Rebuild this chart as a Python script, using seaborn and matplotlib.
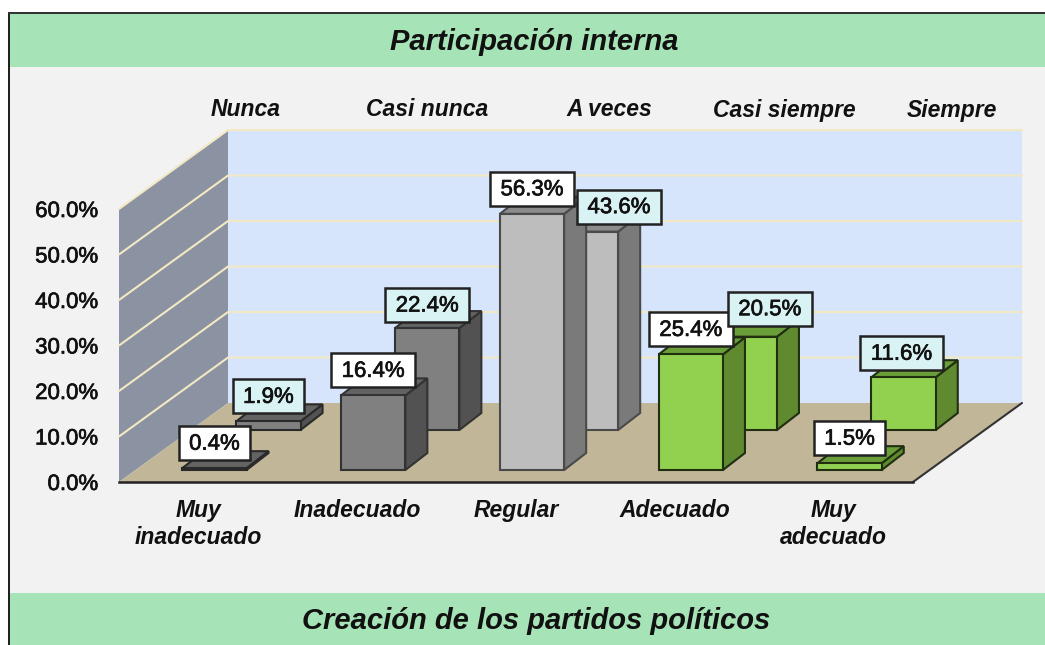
import matplotlib
matplotlib.use("Agg")
import matplotlib.pyplot as plt
import matplotlib.patheffects as pe
from matplotlib.patches import Polygon, Rectangle
from matplotlib.transforms import IdentityTransform
import seaborn as sns
import pandas as pd

# Data
categorias = ["Muy\ninadecuado", "Inadecuado", "Regular", "Adecuado", "Muy\nadecuado"]
frecuencias = ["Nunca", "Casi nunca", "A veces", "Casi siempre", "Siempre"]
serie_frente = [0.4, 16.4, 56.3, 25.4, 1.5]
serie_fondo = [1.9, 22.4, 43.6, 20.5, 11.6]
y_ticks = [0, 10, 20, 30, 40, 50, 60]

# Bar colours per category: face, side, top
caras = ["#808080", "#808080", "#bdbdbd", "#92d050", "#92d050"]
lados = ["#525252", "#525252", "#7a7a7a", "#5f8a30", "#5f8a30"]
techos = ["#636363", "#636363", "#8c8c8c", "#6a9e38", "#6a9e38"]
bordes = ["#2a2a2a", "#333333", "#4a4a4a", "#1f2f10", "#1f2f10"]

W, H = 1045, 645
FONT = "Liberation Sans"
sns.set_theme(style="white")
plt.rcParams["font.family"] = FONT

fig = plt.figure(figsize=(W / 100, H / 100), dpi=100, facecolor="white")
stroke = [pe.withStroke(linewidth=0.5, foreground="#111111")]


def px(x, y):
    # pixel position in the reference (y down) -> display coords
    return (x, H - y)


def rect_fig(x0, y0, x1, y1, color, z):
    fig.add_artist(Rectangle(px(x0, y1), x1 - x0, y1 - y0, transform=IdentityTransform(),
                             facecolor=color, edgecolor="none", zorder=z))


def make_axes(dx, dy, z):
    a = fig.add_axes([(119 + dx) / W, (H - 482 + dy) / H, 794 / W, 273 / H], zorder=z)
    a.patch.set_alpha(0)
    return a


# Panel
rect_fig(9, 13, W, H, "#f2f2f2", -5)
rect_fig(10, 14, W, 67, "#a6e3b6", -4)
rect_fig(10, 593, W, H, "#a6e3b6", -4)
rect_fig(8, 12, 10, H, "#222222", -3)
rect_fig(8, 12, W, 14, "#333333", -3)

fig.text(534 / W, 1 - 42 / H, "Participación interna", ha="center", va="center",
         fontsize=21, style="italic", weight="bold", color="#111111")
fig.text(536 / W, 1 - 621 / H, "Creación de los partidos políticos", ha="center", va="center",
         fontsize=21, style="italic", weight="bold", color="#111111")

# Walls and floor
ax = make_axes(0, 0, 1)
ax.set_xlim(-0.5, 4.5)
ax.set_ylim(0, 60)
DX, DY = 109, 79


def wall(a, pts, color, ec="none", lw=0):
    a.add_patch(Polygon(pts, closed=True, transform=IdentityTransform(), facecolor=color,
                        edgecolor=ec, linewidth=lw, clip_on=False, zorder=0))


p00 = ax.transData.transform((-0.5, 0))
p10 = ax.transData.transform((4.5, 0))
p01 = ax.transData.transform((-0.5, 60))
p11 = ax.transData.transform((4.5, 60))
deep = (DX, DY)
wall(ax, [p00, p01, p01 + deep, p00 + deep], "#8b93a2")
wall(ax, [p00 + deep, p01 + deep, p11 + deep, p10 + deep], "#d6e5fc")
wall(ax, [p00, p10, p10 + deep, p00 + deep], "#c1b697")

for t in y_ticks:
    a0 = ax.transData.transform((-0.5, t))
    b0 = ax.transData.transform((4.5, t))
    if t > 0:
        ax.plot([a0[0], a0[0] + DX, b0[0] + DX], [a0[1], a0[1] + DY, b0[1] + DY],
                transform=IdentityTransform(), color="#f3e8c4", lw=1.5, clip_on=False, zorder=1)
ax.plot([p10[0], p10[0] + DX], [p10[1], p10[1] + DY], transform=IdentityTransform(),
        color="#333333", lw=1.5, clip_on=False, zorder=1)

ax.set_yticks(y_ticks)
ax.set_yticklabels([f"{t:.1f}%" for t in y_ticks], fontsize=16, color="#111111", path_effects=stroke,
                   va="center_baseline")
ax.set_xticks(range(5))
ax.set_xticklabels(categorias, fontsize=16.5, style="italic", weight="bold", color="#111111",
                   linespacing=1.22)
ax.tick_params(axis="both", length=0)
ax.tick_params(axis="y", pad=15)
ax.tick_params(axis="x", pad=12)
sns.despine(ax=ax, left=True, top=True, right=True)
ax.spines["bottom"].set_color("#222222")
ax.spines["bottom"].set_linewidth(1.8)
ax.set_xlabel("")
ax.set_ylabel("")

# Frequency headers above the back wall
for xp, nombre in zip([246, 427, 609, 784, 952], frecuencias):
    fig.text(xp / W, 1 - 110 / H, nombre, ha="center", va="center", fontsize=16.5,
             style="italic", weight="bold", color="#111111")


def draw_series(values, dx, dy, z):
    # dx, dy: pixel shift of this depth row from the front of the floor
    a = make_axes(dx, dy, z)
    df = pd.DataFrame({"categoria": categorias, "valor": values})
    sns.barplot(data=df, x="categoria", y="valor", hue="categoria", palette=caras, saturation=1,
                width=0.405, legend=False, ax=a)
    a.set_xlim(-0.5, 4.5)
    a.set_ylim(0, 60)
    a.axis("off")
    d = (22, 17)
    tops = []
    for i, bar in enumerate(a.patches):
        x0, w, h = bar.get_x(), bar.get_width(), bar.get_height()
        bar.set_edgecolor(bordes[i])
        bar.set_linewidth(1.5)
        bar.set_zorder(4)
        bar.set_clip_on(False)
        br = a.transData.transform((x0 + w, 0))
        tl = a.transData.transform((x0, h))
        tr = a.transData.transform((x0 + w, h))
        for pts, color in [([br, tr, tr + d, br + d], lados[i]), ([tl, tr, tr + d, tl + d], techos[i])]:
            a.add_patch(Polygon(pts, closed=True, transform=IdentityTransform(), facecolor=color,
                                edgecolor=bordes[i], linewidth=1.5, clip_on=False, zorder=3))
        tops.append(((tl[0] + tr[0]) / 2, tl[1]))
    return tops


tops_fondo = draw_series(serie_fondo, 70, 52, 2)
tops_frente = draw_series(serie_frente, 16, 12, 3)


def draw_label(xc, ytop, valor, color, z, nudge=(0, 25)):
    renderer = fig.canvas.get_renderer()
    t = fig.text(xc + nudge[0], ytop + nudge[1] - 1, f"{valor:.1f}%", transform=IdentityTransform(),
                 ha="center", va="center", fontsize=16, color="#111111", zorder=z + 1,
                 path_effects=stroke)
    w = t.get_window_extent(renderer).width + 21
    fig.add_artist(Rectangle((xc + nudge[0] - w / 2, ytop + nudge[1] - 17), w, 34,
                             transform=IdentityTransform(), facecolor=color, edgecolor="#222222",
                             linewidth=1.8, zorder=z))


for (xc, yt), v in zip(tops_frente, serie_frente):
    draw_label(xc, yt, v, "white", 10)
# two back labels sit to the right of the front ones in the original
nudges_fondo = [(0, 25), (0, 23), (33, 25), (25, 28), (-2, 24)]
for (xc, yt), v, n in zip(tops_fondo, serie_fondo, nudges_fondo):
    draw_label(xc, yt, v, "#d9f2f4", 12, n)

fig.savefig("out.png", dpi=100, facecolor="white")
